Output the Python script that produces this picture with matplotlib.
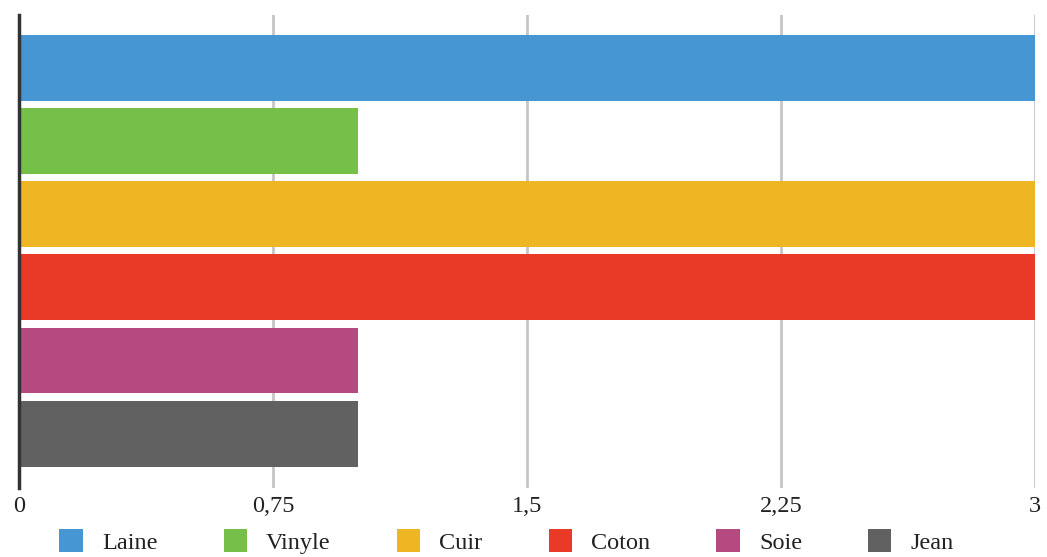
import matplotlib.pyplot as plt
from matplotlib.patches import Patch

# data
materials = ['Laine', 'Vinyle', 'Cuir', 'Coton', 'Soie', 'Jean']
values = [3, 1, 3, 3, 1, 1]
colors = ['#4596d2', '#76c04a', '#eeb623', '#e83a27', '#b54a80', '#616161']
xticks = [0, 0.75, 1.5, 2.25, 3]
xtick_labels = ['0', '0,75', '1,5', '2,25', '3']

plt.rcParams['font.family'] = ['Liberation Serif', 'DejaVu Serif']

fig = plt.figure(figsize=(10.47, 5.57), dpi=100)
ax = fig.add_axes([0.0182, 0.124, 0.9704, 0.849])

pos = list(range(len(materials)))
ax.barh(pos, values, height=0.9, color=colors, zorder=2)

ax.set_xlim(0, 3)
ax.set_ylim(5.74, -0.72)
ax.set_xticks(xticks)
ax.set_xticklabels(xtick_labels, fontsize=17.5, color='#222222')
ax.set_yticks([])
ax.tick_params(axis='x', length=0, pad=6)

ax.grid(axis='x', color='#c9c4c4', linewidth=2, zorder=1)
for s in ['top', 'right', 'bottom']:
    ax.spines[s].set_visible(False)
ax.spines['left'].set_color('#333333')
ax.spines['left'].set_linewidth(2.5)
ax.spines['left'].set_zorder(3)

handles = [Patch(facecolor=c, label=m) for m, c in zip(materials, colors)]
fig.legend(handles=handles, loc='center', bbox_to_anchor=(0.484, 0.028), ncol=6,
           frameon=False, fontsize=17.5, handlelength=0.95, handleheight=1.05,
           handletextpad=0.8, columnspacing=2.72, labelcolor='#222222',
           borderpad=0.1)

fig.savefig('out.png', dpi=100)
